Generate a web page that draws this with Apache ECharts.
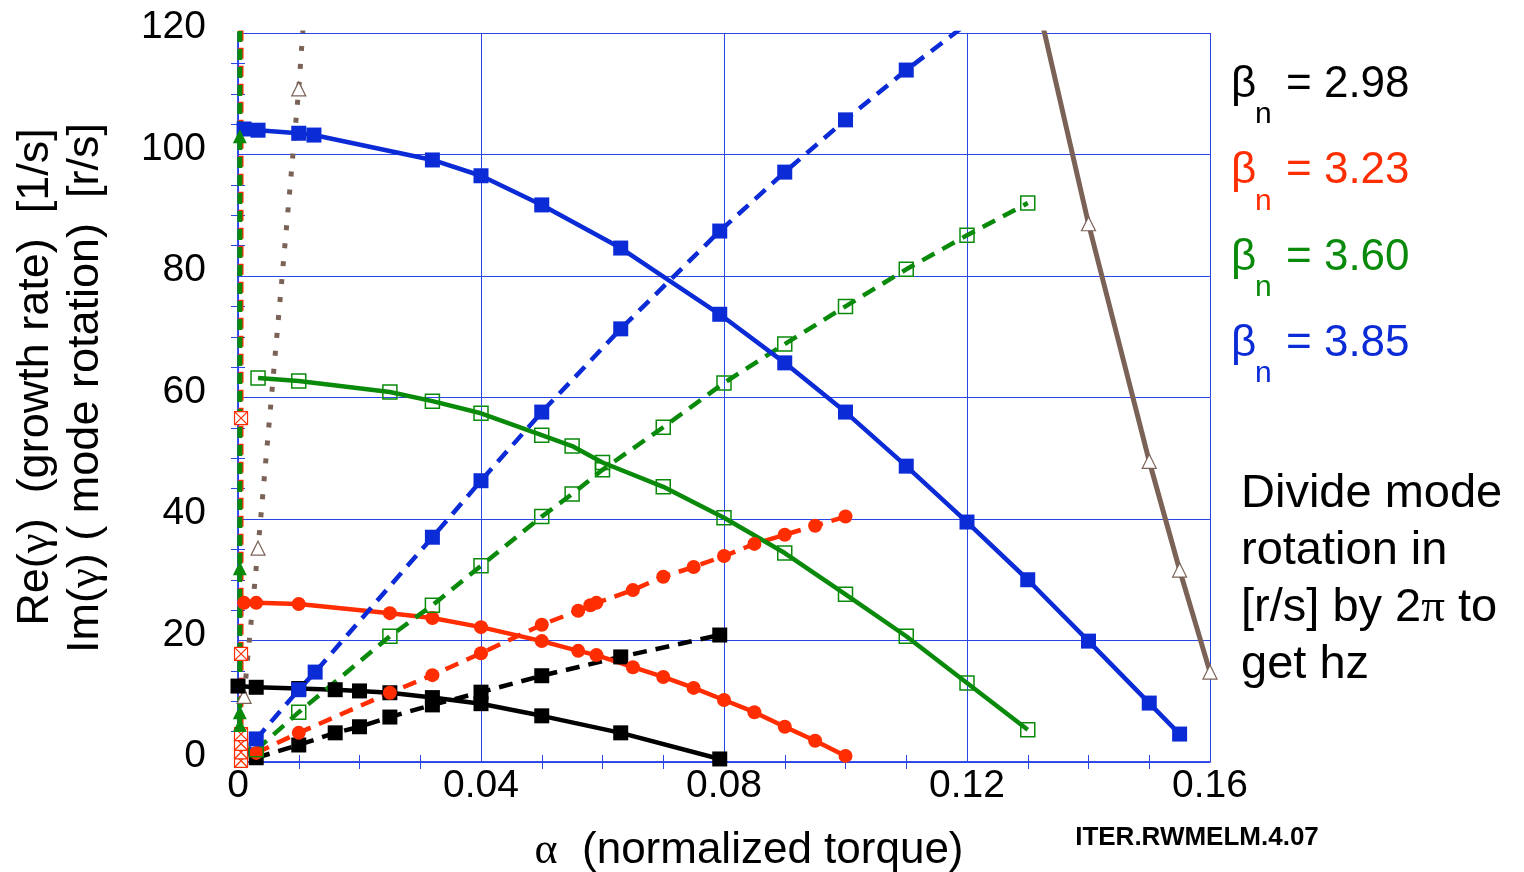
<!DOCTYPE html>
<html lang="en">
<head>
    <meta charset="UTF-8">
    <title>RWM growth rate vs torque</title>
    <style>
        html, body { margin: 0; padding: 0; background: #fff; }
        #chart { width: 1524px; height: 872px; }
    </style>
</head>
<body>
<div id="chart"></div>

<script src="https://cdn.jsdelivr.net/npm/echarts@6.0.0/dist/echarts.min.js"></script>
<script>
    // values
    const xTicks = [0, 0.04, 0.08, 0.12, 0.16];
    const yTicks = [0, 20, 40, 60, 80, 100, 120];

    // beta_n = 2.98 (black)
    const blackReX = [0, 0.003, 0.01, 0.016, 0.02, 0.025, 0.032, 0.04, 0.05, 0.063, 0.0793];
    const blackReY = [12.5, 12.3, 12.1, 11.9, 11.7, 11.4, 10.6, 9.6, 7.6, 4.8, 0.5];
    const blackImX = [0.003, 0.01, 0.016, 0.02, 0.025, 0.032, 0.04, 0.05, 0.063, 0.0793];
    const blackImY = [0.7, 2.8, 4.8, 5.8, 7.4, 9.4, 11.5, 14.2, 17.3, 20.9];

    // beta_n = 3.23 (red)
    const redReX = [0.001, 0.003, 0.01, 0.025, 0.032, 0.04, 0.05, 0.056, 0.059, 0.065, 0.07, 0.075, 0.08, 0.085, 0.09, 0.095, 0.1];
    const redReY = [26.2, 26.2, 26.0, 24.5, 23.7, 22.2, 19.9, 18.3, 17.6, 15.6, 14.0, 12.2, 10.2, 8.2, 5.8, 3.5, 1.0];
    const redImX = [0.003, 0.01, 0.025, 0.032, 0.04, 0.05, 0.056, 0.058, 0.059, 0.065, 0.07, 0.075, 0.08, 0.085, 0.09, 0.095, 0.1];
    const redImY = [1.5, 4.8, 11.4, 14.3, 17.9, 22.6, 24.9, 25.8, 26.2, 28.3, 30.5, 32.1, 33.9, 35.9, 37.4, 38.9, 40.4];
    const redZeroX = [0.0005, 0.0005, 0.0005, 0.0005, 0.0005, 0.0005, 0.0005];
    const redZeroY = [0.2, 1.6, 3.0, 4.6, 17.8, 56.6, 130];

    // beta_n = 3.60 (green)
    const greenReX = [0.0033, 0.01, 0.025, 0.032, 0.04, 0.05, 0.055, 0.06, 0.07, 0.08, 0.09, 0.1, 0.11, 0.12, 0.13];
    const greenReY = [63.2, 62.7, 60.9, 59.4, 57.4, 53.8, 52.0, 49.3, 45.3, 40.2, 34.4, 27.6, 20.7, 13.0, 5.3];
    const greenImX = [0.003, 0.01, 0.025, 0.032, 0.04, 0.05, 0.055, 0.06, 0.07, 0.08, 0.09, 0.1, 0.11, 0.12, 0.13];
    const greenImY = [2.0, 8.2, 20.7, 25.8, 32.3, 40.4, 44.1, 48.1, 55.1, 62.4, 68.8, 75.0, 81.1, 86.7, 92.0];
    const greenZeroX = [0.0003, 0.0003, 0.0003, 0.0003, 0.0003, 0.0003];
    const greenZeroY = [0, 6.1, 8.2, 31.9, 103, 130];

    // beta_n = 3.85 (blue)
    const blueReX = [0.001, 0.0033, 0.01, 0.0125, 0.032, 0.04, 0.05, 0.063, 0.0793, 0.09, 0.1, 0.11, 0.12, 0.13, 0.14, 0.15, 0.155];
    const blueReY = [104.2, 104.0, 103.5, 103.2, 99.1, 96.5, 91.7, 84.6, 73.7, 65.7, 57.6, 48.7, 39.5, 30.0, 19.9, 9.7, 4.6];
    const blueImX = [0.001, 0.003, 0.01, 0.0127, 0.032, 0.04, 0.05, 0.063, 0.0793, 0.09, 0.1, 0.11, 0.12];
    const blueImY = [0.5, 3.8, 11.9, 14.8, 37.0, 46.3, 57.6, 71.3, 87.4, 97.1, 105.7, 113.9, 121.5];

    // brown curves
    const brownImX = [0.001, 0.0033, 0.01, 0.011];
    const brownImY = [10.8, 35.2, 110.8, 125];
    const brownReX = [0.13, 0.14, 0.15, 0.155, 0.16];
    const brownReY = [132, 88.6, 49.5, 31.6, 14.8];

    const BLACK = '#000000', RED = '#ff2d00', GREEN = '#0a8a0a', BLUE = '#0b2bd6', BROWN = '#7b6257';
    const GRIDC = '#2a46e6';

    // points in 'bare' get no marker (line continues past the frame / starts at origin)
    function pts(xs, ys, bare) {
        return xs.map((x, i) => (bare && bare.includes(i)) ? { value: [x, ys[i]], symbol: 'none' } : [x, ys[i]]);
    }

    const crossRect = 'path://M0,0H10V10H0ZM0,0L10,10M10,0L0,10';

    function line(data, color, opts) {
        return Object.assign({
            type: 'line',
            data: data,
            symbol: 'rect',
            symbolSize: 15,
            showAllSymbol: true,
            silent: true,
            lineStyle: { color: color, width: 4.5 },
            itemStyle: { color: color },
            emphasis: { disabled: true }
        }, opts || {});
    }

    const dashed = (color) => ({ color: color, width: 4.5, type: [14, 9] });

    let chart = echarts.init(document.getElementById('chart'));

    let option = {
        animation: false,
        backgroundColor: '#fff',
        grid: { left: 238, right: 314, top: 33, bottom: 110 },
        xAxis: [{
            type: 'value', min: 0, max: 0.16, interval: 0.04,
            axisLine: { lineStyle: { color: GRIDC, width: 1.5 } },
            axisTick: { show: false },
            minorTick: { show: true, splitNumber: 4, length: 7, lineStyle: { color: GRIDC, width: 1 } },
            splitLine: { show: true, lineStyle: { color: GRIDC, width: 1 } },
            axisLabel: {
                fontFamily: 'Liberation Sans', fontSize: 39, color: '#000', margin: 5,
                formatter: v => xTicks.includes(+v.toFixed(2)) ? (v === 0 ? '0' : v.toFixed(2)) : ''
            }
        }, {
            type: 'value', min: 0, max: 0.16, interval: 0.04, position: 'top',
            axisLine: { lineStyle: { color: GRIDC, width: 1.5 } },
            axisTick: { show: false },
            minorTick: { show: true, splitNumber: 4, length: 7, lineStyle: { color: GRIDC, width: 1 } },
            splitLine: { show: false },
            axisLabel: { show: false }
        }],
        yAxis: [{
            type: 'value', min: 0, max: 120, interval: 20,
            axisLine: { show: true, lineStyle: { color: GRIDC, width: 1.5 } },
            axisTick: { show: false },
            minorTick: { show: true, splitNumber: 4, length: 7, lineStyle: { color: GRIDC, width: 1 } },
            splitLine: { show: true, lineStyle: { color: GRIDC, width: 1 } },
            axisLabel: {
                color: '#000', margin: 32,
                formatter: v => yTicks.includes(v) ? '{u|' + v + '}' : '',
                rich: { u: { fontFamily: 'Liberation Sans', fontSize: 39, color: '#000', padding: [0, 0, 11, 0] } }
            }
        }, {
            type: 'value', min: 0, max: 120, interval: 20, position: 'right',
            axisLine: { show: true, lineStyle: { color: GRIDC, width: 1.5 } },
            axisTick: { show: false },
            minorTick: { show: true, splitNumber: 4, length: 7, lineStyle: { color: GRIDC, width: 1 } },
            splitLine: { show: false },
            axisLabel: { show: false }
        }],
        series: [
            line(pts(brownImX, brownImY, [3]), BROWN, {
                symbol: 'triangle', symbolSize: 14,
                itemStyle: { color: '#fff', borderColor: BROWN, borderWidth: 1.2 },
                lineStyle: { color: BROWN, width: 5, type: [5, 13] }
            }),
            line(pts(brownReX, brownReY, [0]), BROWN, {
                symbol: 'triangle', symbolSize: 14,
                itemStyle: { color: '#fff', borderColor: BROWN, borderWidth: 1.2 },
                lineStyle: { color: BROWN, width: 5 }
            }),
            line(pts(blackReX, blackReY), BLACK),
            line(pts(blackImX, blackImY), BLACK, { lineStyle: dashed(BLACK) }),
            line(pts(redReX, redReY), RED, { symbol: 'circle', symbolSize: 14 }),
            line(pts(redImX, redImY), RED, { symbol: 'circle', symbolSize: 14, lineStyle: dashed(RED) }),
            line(pts(greenReX, greenReY), GREEN, {
                symbolSize: 14,
                itemStyle: { color: 'rgba(255,255,255,0)', borderColor: GREEN, borderWidth: 1.5 }
            }),
            line(pts(greenImX, greenImY), GREEN, {
                symbolSize: 14,
                itemStyle: { color: 'rgba(255,255,255,0)', borderColor: GREEN, borderWidth: 1.5 },
                lineStyle: dashed(GREEN)
            }),
            line(pts(blueReX, blueReY), BLUE),
            line(pts(blueImX, blueImY, [0, 12]), BLUE, { lineStyle: dashed(BLUE) }),
            line(pts(redZeroX, redZeroY, [6]), RED, {
                symbol: crossRect, symbolSize: 13,
                itemStyle: { color: '#fff', borderColor: RED, borderWidth: 1.2 },
                lineStyle: { color: RED, width: 5, type: [11, 7] }
            }),
            line(pts(greenZeroX, greenZeroY, [0, 5]), GREEN, {
                symbol: 'triangle', symbolSize: 14,
                lineStyle: { color: GREEN, width: 5, type: [11, 7] }
            })
        ],
        graphic: [
            {
                type: 'text', x: 36, y: 377, rotation: Math.PI / 2,
                style: {
                    text: 'Re({g|γ})  (growth rate)  [1/s]', fill: '#000',
                    font: '45px "Liberation Sans"', align: 'center', verticalAlign: 'middle',
                    rich: { g: { fontFamily: 'Liberation Serif', fontSize: 45 } }
                }
            },
            {
                type: 'text', x: 86, y: 388, rotation: Math.PI / 2,
                style: {
                    text: 'Im({g|γ}) ( mode rotation)  [r/s]', fill: '#000',
                    font: '45px "Liberation Sans"', align: 'center', verticalAlign: 'middle',
                    rich: { g: { fontFamily: 'Liberation Serif', fontSize: 45 } }
                }
            },
            {
                type: 'text', x: 749, y: 851,
                style: {
                    text: '{a|α}  (normalized torque)', fill: '#000',
                    font: '44px "Liberation Sans"', align: 'center', verticalAlign: 'middle',
                    rich: { a: { fontFamily: 'Liberation Serif', fontSize: 44 } }
                }
            },
            {
                type: 'text', x: 1197, y: 838,
                style: {
                    text: 'ITER.RWMELM.4.07', fill: '#000',
                    font: 'bold 26px "Liberation Sans"', align: 'center', verticalAlign: 'middle'
                }
            },
            {
                type: 'text', x: 1241, y: 466,
                style: {
                    text: 'Divide mode\nrotation in\n[r/s] by 2{p|π} to\nget hz', fill: '#000',
                    font: '47px "Liberation Sans"', lineHeight: 57, align: 'left', verticalAlign: 'top',
                    rich: { p: { fontFamily: 'Liberation Serif', fontSize: 47, lineHeight: 57 } }
                }
            }
        ]
    };

    // beta_n labels on the right
    const betaLabels = ['2.98', '3.23', '3.60', '3.85'];
    const betaColors = [BLACK, RED, GREEN, BLUE];
    betaLabels.forEach((lab, i) => {
        let yc = 85 + i * 86.3;
        option.graphic.push({
            type: 'text', x: 1231, y: yc,
            style: { text: 'β', fill: betaColors[i], font: '44px "Liberation Sans"', verticalAlign: 'middle' }
        });
        option.graphic.push({
            type: 'text', x: 1255, y: yc + 30,
            style: { text: 'n', fill: betaColors[i], font: '30px "Liberation Sans"', verticalAlign: 'middle' }
        });
        option.graphic.push({
            type: 'text', x: 1286, y: yc,
            style: { text: '= ' + lab, fill: betaColors[i], font: '44px "Liberation Sans"', verticalAlign: 'middle' }
        });
    });

    chart.setOption(option);
</script>
</body>
</html>
